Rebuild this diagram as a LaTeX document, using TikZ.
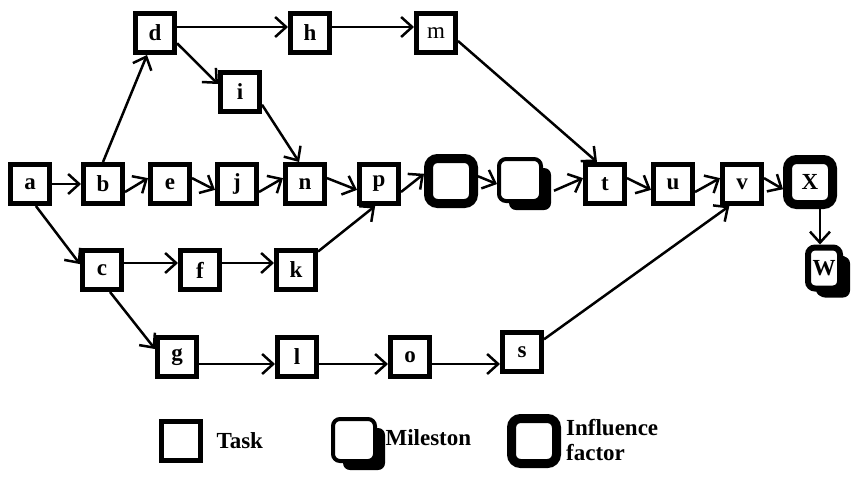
\documentclass[tikz,border=0pt]{standalone}
\usepackage{fontspec}
\setmainfont{Liberation Serif}
\usetikzlibrary{arrows.meta,shadows}
\begin{document}
\begin{tikzpicture}[x=1pt,y=-1pt,
  lbl/.style={font=\bfseries\fontsize{23}{25}\selectfont},
  task/.style={draw, line width=5pt, fill=white, minimum size=39pt, inner sep=0pt, lbl},
  influence/.style={draw, line width=9pt, fill=white, rounded corners=9pt, minimum size=45pt, inner sep=0pt, lbl},
  milestone/.style={draw, line width=4pt, fill=white, rounded corners=7pt, minimum size=42pt, inner sep=0pt, lbl,
    drop shadow={shadow xshift=10pt, shadow yshift=-9pt, fill=black, opacity=1}},
  arr/.style={line width=2.5pt, -{Straight Barb[length=11pt,width=20pt,line width=2.5pt]}}
]
\useasboundingbox (0,0) rectangle (853,483);

% main chain
\node[task] (a) at (30,184) {a};
\node[task] (b) at (103,184) {b};
\node[task] (e) at (170,184) {e};
\node[task] (j) at (237,184) {j};
\node[task] (n) at (305,184) {n};
\node[task] (p) at (379,184) {p};
\node[influence] (inf) at (451,181) {};
\node[milestone] (ms) at (520,180) {};
\node[task] (t) at (605,184) {t};
\node[task] (u) at (673,184) {u};
\node[task] (v) at (742,184) {v};
\node[influence] (X) at (810,182) {X};
\node[milestone, line width=6pt, minimum width=32pt, minimum height=41pt,
      drop shadow={shadow xshift=8pt, shadow yshift=-8pt, fill=black, opacity=1}] (W) at (824,268) {W};

% upper branch
\node[task] (d) at (155,33) {d};
\node[task] (h) at (310,33) {h};
\node[task, font=\fontsize{23}{25}\selectfont] (m) at (436,33) {m};
\node[task] (i) at (240,92) {i};

% lower branches
\node[task] (c) at (102,270) {c};
\node[task] (f) at (200,270) {f};
\node[task] (k) at (296,270) {k};
\node[task] (g) at (177,357) {g};
\node[task] (l) at (297,357) {l};
\node[task] (o) at (410,357) {o};
\node[task] (s) at (522,352) {s};

% connectors along the main chain
\draw[arr] (a.east) -- (b.west);
\draw[arr] (b.-20) -- (e.165);
\draw[arr] (e.15) -- (j.195);
\draw[arr] (j.-20) -- (n.165);
\draw[arr] (n.15) -- (p.195);
\draw[arr] (p.-20) -- (inf.165);
\draw[arr] (inf.10) -- (ms.190);
\draw[arr] ([xshift=11pt]ms.-25) -- (t.165);
\draw[arr] (t.15) -- (u.195);
\draw[arr] (u.-20) -- (v.165);
\draw[arr] (v.15) -- (X.195);
\draw[arr] ([xshift=10pt]X.south) -- ([xshift=10pt]X.south |- W.north);

% upper branch connectors
\draw[arr] (b.north) -- (d.-110);
\draw[arr] ([yshift=6pt]d.east) -- ([yshift=6pt]h.west);
\draw[arr] ([yshift=6pt]h.east) -- ([yshift=6pt]m.west);
\draw[arr] (d.-25) -- (i.160);
\draw[arr] (i.-30) -- (n.105);
\draw[arr] (m.-20) -- (t.110);

% lower branch connectors
\draw[arr] (a.-75) -- (c.165);
\draw[arr] ([yshift=7pt]c.east) -- ([yshift=7pt]f.west);
\draw[arr] ([yshift=7pt]f.east) -- ([yshift=7pt]k.west);
\draw[arr] (k.40) -- (p.-100);
\draw[arr] (c.-70) -- (g.160);
\draw[arr] ([yshift=-7pt]g.east) -- ([yshift=-7pt]l.west);
\draw[arr] ([yshift=-7pt]l.east) -- ([yshift=-7pt]o.west);
\draw[arr] ([yshift=-7pt]o.east) -- ([yshift=-12pt]s.west);
\draw[arr] (s.30) -- (v.-120);

% legend
\node[task] (lt) at (181,441) {};
\node[lbl, anchor=west] (ltt) at (213,441) {Task};
\node[milestone] (lm) at (354,440) {};
\node[lbl, anchor=west] (lmt) at (382,438) {Mileston};
\node[influence] (li) at (534,441) {};
\node[lbl, anchor=north west, align=left, inner sep=0pt] (lit) at (566,419) {Influence\\factor};
\end{tikzpicture}
\end{document}
